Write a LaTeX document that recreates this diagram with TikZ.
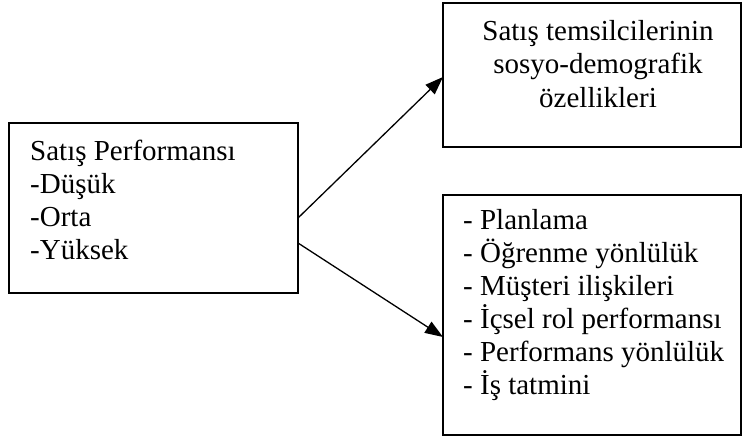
\documentclass[tikz,border=0pt]{standalone}
\usepackage{fontspec}
\setmainfont{Liberation Serif}
\usetikzlibrary{arrows.meta}
\begin{document}
\begin{tikzpicture}[x=1pt,y=-1pt,
  box/.style={draw=black,line width=1.5pt,rectangle,inner sep=0pt,outer sep=0pt,anchor=north west},
  txt/.style={inner sep=0pt,anchor=base west,font=\fontsize{29}{33}\selectfont},
  ctxt/.style={inner sep=0pt,anchor=base,font=\fontsize{29}{33}\selectfont},
  conn/.style={line width=1.3pt,-{Triangle[length=18pt,width=13pt]}}]
\useasboundingbox (0,0) rectangle (745,439);
\node[box,minimum width=289pt,minimum height=170pt] (L) at (9,123) {};
\node[box,minimum width=298pt,minimum height=144pt] (T) at (443,3) {};
\node[box,minimum width=298pt,minimum height=240pt] (B) at (443,195) {};
\node[txt] (l1) at (30,160) {Satış Performansı};
\node[txt] (l2) at (30,193) {-Düşük};
\node[txt] (l3) at (30,226) {-Orta};
\node[txt] (l4) at (30,259) {-Yüksek};
\node[ctxt] (t1) at (598,40) {Satış temsilcilerinin};
\node[ctxt] (t2) at (598,73.5) {sosyo-demografik};
\node[ctxt] (t3) at (598,107) {özellikleri};
\node[txt] (b1) at (463,229) {- Planlama};
\node[txt] (b2) at (463,262) {- Öğrenme yönlülük};
\node[txt] (b3) at (463,295) {- Müşteri ilişkileri};
\node[txt] (b4) at (463,328) {- İçsel rol performansı};
\node[txt] (b5) at (463,361) {- Performans yönlülük};
\node[txt] (b6) at (463,394) {- İş tatmini};
\draw[conn] ([yshift=-95pt]L.north east) -- ([yshift=-74pt]T.north west);
\draw[conn] ([yshift=-120pt]L.north east) -- ([yshift=-142pt]B.north west);
\end{tikzpicture}
\end{document}
